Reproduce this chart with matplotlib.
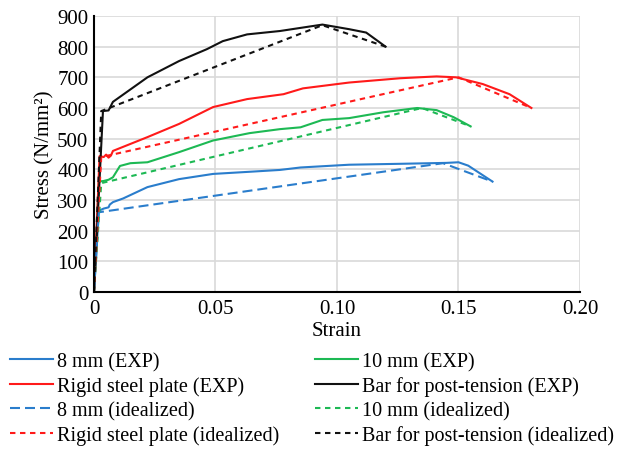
import matplotlib.pyplot as plt

plt.rcParams['font.family'] = ['Liberation Serif', 'DejaVu Serif']
plt.rcParams['font.size'] = 15

# experimental curves (strain, stress in N/mm2)
exp8_x = [0, 0.002, 0.004, 0.006, 0.0065, 0.0078, 0.012, 0.022, 0.035, 0.049, 0.064, 0.0765,
          0.085, 0.105, 0.126, 0.145, 0.150, 0.154, 0.164]
exp8_y = [0, 265, 272, 276, 285, 293, 305, 342, 368, 385, 392, 398,
          406, 415, 418, 421, 423, 412, 360]

exp10_x = [0, 0.002, 0.004, 0.006, 0.0078, 0.0107, 0.015, 0.022, 0.035, 0.049, 0.064, 0.0765,
           0.085, 0.094, 0.105, 0.119, 0.133, 0.141, 0.148, 0.155]
exp10_y = [0, 360, 362, 366, 374, 411, 420, 423, 456, 494, 518, 531,
           537, 561, 567, 586, 600, 593, 570, 540]

expr_x = [0, 0.0023, 0.004, 0.005, 0.006, 0.007, 0.0078, 0.022, 0.035, 0.049, 0.063, 0.078,
          0.086, 0.105, 0.126, 0.141, 0.149, 0.160, 0.171, 0.180]
expr_y = [0, 443, 440, 448, 438, 445, 460, 505, 548, 603, 629, 645,
          664, 683, 697, 703, 700, 678, 645, 600]

expb_x = [0, 0.0037, 0.006, 0.0078, 0.022, 0.035, 0.0465, 0.053, 0.063, 0.0765, 0.094, 0.105,
          0.112, 0.120]
expb_y = [0, 590, 592, 620, 700, 753, 792, 818, 840, 851, 872, 857,
          846, 800]

# idealized curves
id8_x = [0, 0.002, 0.1436, 0.164]
id8_y = [0, 260, 420, 360]
id10_x = [0, 0.003, 0.135, 0.155]
id10_y = [0, 355, 600, 540]
idr_x = [0, 0.003, 0.150, 0.180]
idr_y = [0, 440, 700, 600]
idb_x = [0, 0.003, 0.094, 0.120]
idb_y = [0, 590, 870, 800]

labels_exp = ['8 mm (EXP)', '10 mm (EXP)', 'Rigid steel plate (EXP)', 'Bar for post-tension (EXP)']
labels_id = ['8 mm (idealized)', '10 mm (idealized)', 'Rigid steel plate (idealized)',
             'Bar for post-tension (idealized)']

c_blue = '#2a7dcc'
c_green = '#1db954'
c_red = '#ff1a1a'
c_black = '#111111'

fig = plt.figure(figsize=(6.24, 4.52), dpi=100)
ax = fig.add_axes([0.1506, 0.3518, 0.7789, 0.6106])

short = (0, (2.6, 2.2))
long_ = (0, (4.8, 2.4))

h = {}
h['e8'], = ax.plot(exp8_x, exp8_y, color=c_blue, lw=1.5, label=labels_exp[0])
h['e10'], = ax.plot(exp10_x, exp10_y, color=c_green, lw=1.5, label=labels_exp[1])
h['er'], = ax.plot(expr_x, expr_y, color=c_red, lw=1.5, label=labels_exp[2])
h['eb'], = ax.plot(expb_x, expb_y, color=c_black, lw=1.5, label=labels_exp[3])
h['i8'], = ax.plot(id8_x, id8_y, color=c_blue, lw=1.5, ls=long_, label=labels_id[0])
h['i10'], = ax.plot(id10_x, id10_y, color=c_green, lw=1.5, ls=short, label=labels_id[1])
h['ir'], = ax.plot(idr_x, idr_y, color=c_red, lw=1.5, ls=short, label=labels_id[2])
h['ib'], = ax.plot(idb_x, idb_y, color=c_black, lw=1.5, ls=short, label=labels_id[3])

ax.set_xlim(0, 0.20)
ax.set_ylim(0, 900)
ax.set_xticks([0, 0.05, 0.10, 0.15, 0.20])
ax.set_xticklabels(['0', '0.05', '0.10', '0.15', '0.20'])
ax.set_yticks(range(0, 901, 100))
ax.grid(True, color='#d9d9d9', lw=1.2)
ax.set_axisbelow(True)
for s in ['top', 'right']:
    ax.spines[s].set_visible(False)
for s in ['left', 'bottom']:
    ax.spines[s].set_linewidth(1.5)
    ax.spines[s].set_color('black')
ax.tick_params(axis='x', length=0, pad=5)
ax.tick_params(axis='y', length=0, pad=4)
ax.set_xlabel('Strain', labelpad=2)
ax.set_ylabel('Stress (N/mm²)', labelpad=2)

order = ['e8', 'er', 'i8', 'ir', 'e10', 'eb', 'i10', 'ib']
fig.legend([h[k] for k in order], [h[k].get_label() for k in order],
           ncol=2, loc='upper left', bbox_to_anchor=(10 / 624, 0.219),
           frameon=False, handlelength=2.15, handletextpad=0.2, borderpad=0,
           columnspacing=1.75, labelspacing=0.25, borderaxespad=0,
           fontsize=14.5)

fig.savefig('out.png', dpi=100)
